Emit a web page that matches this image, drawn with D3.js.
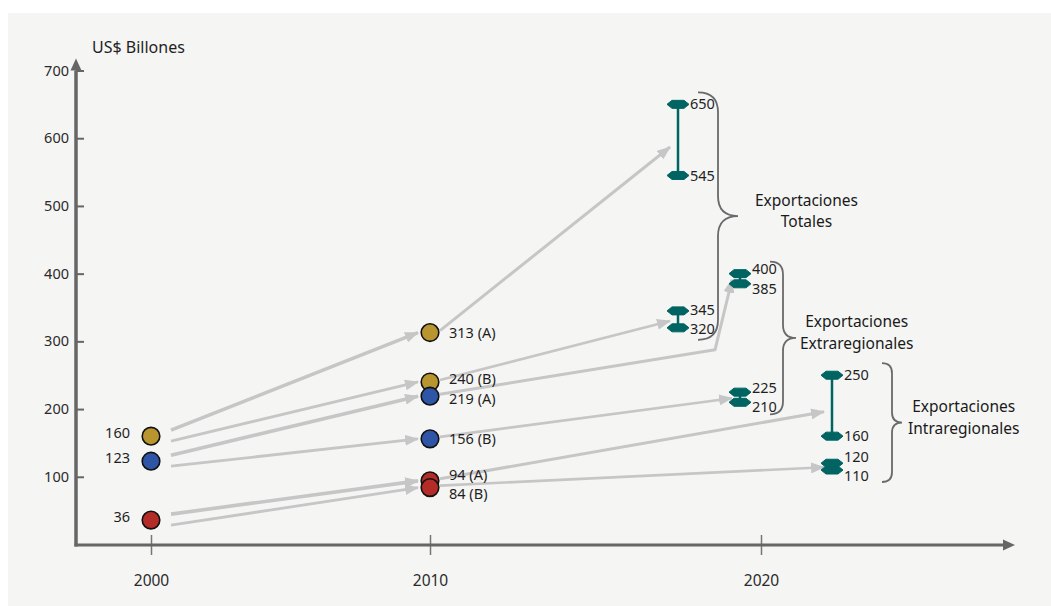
<!DOCTYPE html>
<html>
<head>
<meta charset="utf-8">
<script src="https://cdn.jsdelivr.net/npm/d3@7"></script>
<style>
  body { margin: 0; background: #ffffff; }
  text { font-family: "Noto Sans", "Open Sans", sans-serif; }
</style>
</head>
<body>
<script>
// ---- data -------------------------------------------------------------
const years = [2000, 2010, 2020];
const yTicks = [100, 200, 300, 400, 500, 600, 700];
const yAxisTitle = "US$ Billones";
const groupTitle = "Exportaciones";
const groups = ["Totales", "Extraregionales", "Intraregionales"];
const scenarios = ["A", "B"];
const exports2000 = [160, 123, 36];
const exports2010A = [313, 219, 94];
const exports2010B = [240, 156, 84];
const range2020ALow = [545, 385, 160];
const range2020AHigh = [650, 400, 250];
const range2020BLow = [320, 210, 110];
const range2020BHigh = [345, 225, 120];

// ---- layout -----------------------------------------------------------
const W = 1051, H = 606;
const axisX = 76, axisY = 545;
const groupFill = ["#b8952f", "#2f55a6", "#b32c27"];
const teal = "#006462";
const arrowGrey = "#c6c6c6";
const axisGrey = "#666666";
const groupOffset = [-83, -21, 71];   // 2020 range bars, px from the 2020 tick
const braceSpine = [40, 43, 60];      // brace spine, px right of the bars
const braceHalf = [20, 13, 10];       // brace curl size
const braceLabelGap = [17, 4, 6];
const labelGap = 19.5;                // min distance between stacked labels

const svg = d3.select("body").append("svg")
  .attr("width", W).attr("height", H);

svg.append("rect").attr("x", 8).attr("y", 13)
  .attr("width", W - 8).attr("height", H - 13).attr("fill", "#f5f5f4");

const defs = svg.append("defs");
defs.append("marker").attr("id", "head")
  .attr("markerUnits", "userSpaceOnUse")
  .attr("viewBox", "0 0 14 11").attr("refX", 13).attr("refY", 5.5)
  .attr("markerWidth", 14).attr("markerHeight", 11).attr("orient", "auto")
  .append("path").attr("d", "M0,0 L14,5.5 L0,11 Z").attr("fill", arrowGrey);

const x = d3.scaleLinear().domain(years).range([151, 430, 761]);
const y = d3.scaleLinear().domain([0, 700]).range([544.5, 70.5]);

// ---- axes -------------------------------------------------------------
const yAxisG = svg.append("g").attr("transform", `translate(${axisX},0)`)
  .call(d3.axisLeft(y).tickValues(yTicks).tickSize(-8).tickPadding(7));
yAxisG.select(".domain").remove();
yAxisG.selectAll(".tick line").attr("stroke", axisGrey).attr("stroke-width", 2);
yAxisG.selectAll(".tick text").attr("fill", "#2a2a2a")
  .style("font-size", "14.5px").style("font-family", "'Noto Sans', sans-serif");

const xAxisG = svg.append("g").attr("transform", `translate(0,${axisY})`)
  .call(d3.axisBottom(x).tickValues(years).tickFormat(d3.format("d"))
    .tickSize(10).tickPadding(20));
xAxisG.select(".domain").remove();
xAxisG.selectAll(".tick line").attr("y1", -10).attr("stroke", "#777").attr("stroke-width", 1.5);
xAxisG.selectAll(".tick text").attr("fill", "#2a2a2a")
  .style("font-size", "15.5px").style("font-family", "'Noto Sans', sans-serif");

const yTop = y(d3.max(yTicks));
svg.append("line").attr("x1", axisX).attr("x2", axisX)
  .attr("y1", axisY + 1.5).attr("y2", yTop)
  .attr("stroke", axisGrey).attr("stroke-width", 3.5);
svg.append("path")
  .attr("d", `M${axisX - 5.5},${yTop} L${axisX},${yTop - 12} L${axisX + 5.5},${yTop} Z`)
  .attr("fill", axisGrey);
const xEnd = 1003;
svg.append("line").attr("x1", axisX - 1.5).attr("x2", xEnd)
  .attr("y1", axisY).attr("y2", axisY)
  .attr("stroke", axisGrey).attr("stroke-width", 3);
svg.append("path")
  .attr("d", `M${xEnd},${axisY - 5.5} L${xEnd + 12},${axisY} L${xEnd},${axisY + 5.5} Z`)
  .attr("fill", axisGrey);

svg.append("text").attr("x", 92).attr("y", 53)
  .style("font-size", "16px").attr("fill", "#1f1f1f").text(yAxisTitle);

// ---- derived series ---------------------------------------------------
const v2010 = { A: exports2010A, B: exports2010B };
const lo2020 = { A: range2020ALow, B: range2020BLow };
const hi2020 = { A: range2020AHigh, B: range2020BHigh };
const barX = groups.map((g, i) => x(2020) + groupOffset[i]);

const ranges = [];
groups.forEach((g, i) => scenarios.forEach(s =>
  ranges.push({ g: i, s, lo: lo2020[s][i], hi: hi2020[s][i] })));

// ---- arrows -----------------------------------------------------------
const arrows = [];
groups.forEach((g, i) => scenarios.forEach(s => {
  // 2000 -> 2010
  arrows.push({
    pts: [[x(2000) + 20, y(exports2000[i]) + (s === "A" ? -6 : 5)],
          [x(2010) - 12, y(v2010[s][i])]],
    w: s === "A" ? 3.6 : 2.8
  });
  // 2010 -> 2020 range
  const lo = lo2020[s][i], hi = hi2020[s][i];
  const end = [barX[i] - 8, y(lo + (hi - lo) * 0.4)];
  const start = [x(2010) + 10, y(v2010[s][i]) - 2];
  let pts = [start, end];
  if (i === 1 && s === "A") {
    // routed below the first group's lower range, then up to its target
    pts = [start, [barX[0] + 37, y(range2020BLow[0]) + 22], end];
  }
  arrows.push({ pts, w: s === "A" ? 3 : 2.6 });
}));

svg.append("g").selectAll("path").data(arrows).join("path")
  .attr("d", d => d3.line()(d.pts))
  .attr("fill", "none").attr("stroke", arrowGrey)
  .attr("stroke-width", d => d.w).attr("stroke-linejoin", "round")
  .attr("marker-end", "url(#head)");

// ---- 2020 range bars --------------------------------------------------
const capPath = "M-11,0 L-6,-4 L6,-4 L11,0 L6,4 L-6,4 Z";
const rg = svg.append("g").selectAll("g").data(ranges).join("g");
rg.append("line")
  .attr("x1", d => barX[d.g]).attr("x2", d => barX[d.g])
  .attr("y1", d => y(d.hi)).attr("y2", d => y(d.lo))
  .attr("stroke", teal).attr("stroke-width", 2.5);
rg.selectAll("path").data(d => [d.hi, d.lo].map(v => ({ v, g: d.g }))).join("path")
  .attr("d", capPath)
  .attr("transform", d => `translate(${barX[d.g]},${y(d.v)})`)
  .attr("fill", teal).attr("stroke", teal).attr("stroke-width", 1)
  .attr("stroke-linejoin", "round");

// push stacked labels apart so they do not collide
function spread(list, gap) {
  list.sort((a, b) => a.ly - b.ly);
  for (let k = 0; k < 30; k++) {
    for (let j = 1; j < list.length; j++) {
      const d = list[j].ly - list[j - 1].ly;
      if (d < gap) {
        const push = (gap - d) / 2;
        list[j].ly += push; list[j - 1].ly -= push;
      }
    }
  }
  return list;
}

let rangeLabels = [];
ranges.forEach(r => {
  const pair = [
    { x: barX[r.g] + 12, ly: y(r.hi), t: r.hi },
    { x: barX[r.g] + 12, ly: y(r.lo), t: r.lo }
  ];
  rangeLabels = rangeLabels.concat(spread(pair, labelGap));
});
svg.append("g").selectAll("text").data(rangeLabels).join("text")
  .attr("x", d => d.x).attr("y", d => d.ly).attr("dy", "0.35em")
  .style("font-size", "14.5px").attr("fill", "#1f1f1f")
  .text(d => d.t);

// ---- markers ----------------------------------------------------------
const markers = [];
groups.forEach((g, i) => {
  markers.push({ cx: x(2000), v: exports2000[i], g: i });
  scenarios.forEach(s => markers.push({ cx: x(2010), v: v2010[s][i], g: i, s }));
});
svg.append("g").selectAll("circle").data(markers).join("circle")
  .attr("cx", d => d.cx).attr("cy", d => y(d.v)).attr("r", 8.8)
  .attr("fill", d => groupFill[d.g])
  .attr("stroke", "#111").attr("stroke-width", 1.6);

// 2000 values, to the left
svg.append("g").selectAll("text").data(exports2000).join("text")
  .attr("x", x(2000) - 21).attr("y", d => y(d) - 3).attr("dy", "0.35em")
  .attr("text-anchor", "end").style("font-size", "14.5px").attr("fill", "#1f1f1f")
  .text(d => d);

// 2010 values with scenario, to the right
const labels2010 = spread(markers.filter(d => d.s).map(d => ({
  ly: y(d.v), t: `${d.v} (${d.s})`
})), labelGap);
svg.append("g").selectAll("text").data(labels2010).join("text")
  .attr("x", x(2010) + 19).attr("y", d => d.ly).attr("dy", "0.35em")
  .style("font-size", "14.5px").attr("fill", "#1f1f1f")
  .text(d => d.t);

// ---- group braces -----------------------------------------------------
groups.forEach((g, i) => {
  const top = y(hi2020.A[i]) - 12;
  const bot = y(lo2020.B[i]) + 12;
  const mid = (top + bot) / 2;
  const sx = barX[i] + braceSpine[i];
  const h = braceHalf[i];
  const d = `M${sx - h},${top} Q${sx},${top} ${sx},${top + h}
             L${sx},${mid - h} Q${sx},${mid} ${sx + h},${mid}
             Q${sx},${mid} ${sx},${mid + h}
             L${sx},${bot - h} Q${sx},${bot} ${sx - h},${bot}`;
  svg.append("path").attr("d", d).attr("fill", "none")
    .attr("stroke", "#6a6a6a").attr("stroke-width", 1.8);

  const t = svg.append("text").attr("text-anchor", "middle")
    .style("font-size", "15.5px").attr("fill", "#1a1a1a");
  const l1 = t.append("tspan").attr("y", mid - 16).attr("dy", "0.35em").text(groupTitle);
  const l2 = t.append("tspan").attr("y", mid + 5.5).attr("dy", "0.35em").text(g);
  const wMax = Math.max(l1.node().getComputedTextLength(), l2.node().getComputedTextLength());
  const cx = sx + h + braceLabelGap[i] + wMax / 2;
  l1.attr("x", cx); l2.attr("x", cx);
});
</script>
</body>
</html>
